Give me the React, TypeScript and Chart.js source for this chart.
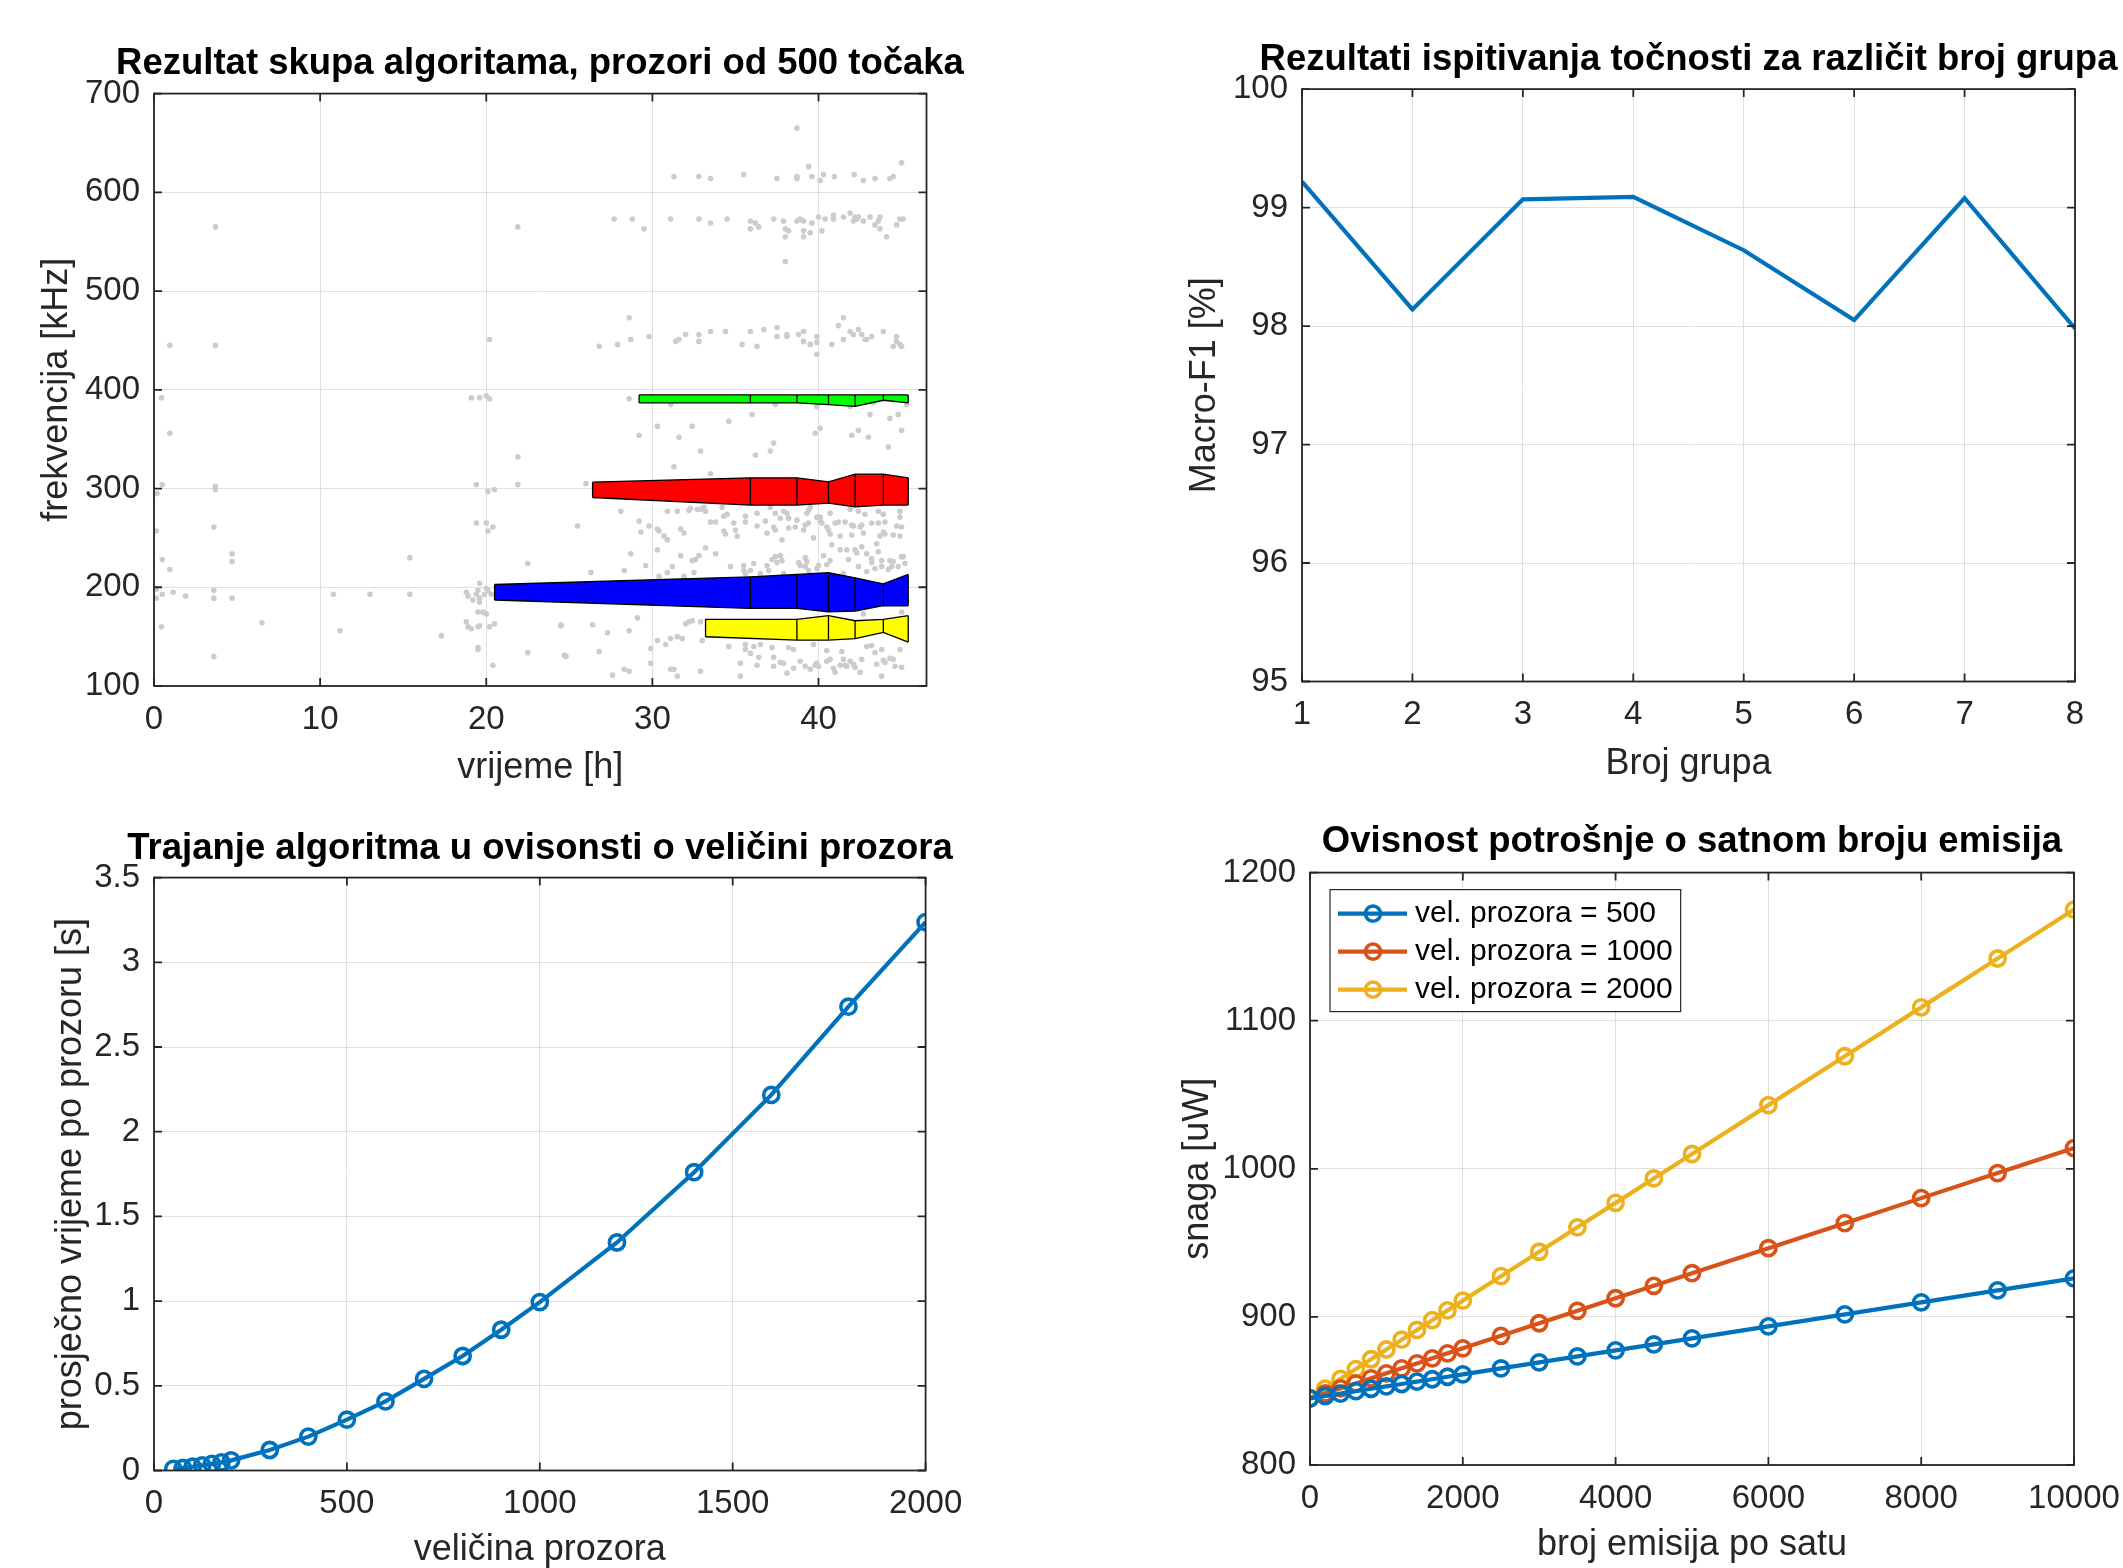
import React, { useEffect, useRef } from 'react';
import { Chart, registerables } from 'chart.js';

Chart.register(...registerables);

const FONT = '"Liberation Sans", Arial, Helvetica, sans-serif';
const AXIS = '#262626';
const GRID = '#dfdfdf';
const C_BLUE = '#0072BD';
const C_ORANGE = '#D95319';
const C_YELLOW = '#EDB120';

// ---------- Top-left: time [h] vs frequency [kHz] ----------
const timeFreqPoints: [number, number][] = [
  [3.7, 565], [21.9, 565], [0.95, 445], [3.7, 445], [20.2, 451],
  [0.45, 392], [19.1, 392], [19.6, 392], [20.0, 394], [20.2, 391],
  [0.95, 356], [21.9, 332], [0.5, 304], [3.7, 302], [3.7, 299], [19.4, 304], [21.9, 304], [0.18, 295], [20.1, 297], [20.5, 299],
  [0.14, 257], [3.6, 261], [19.4, 265], [20.0, 265], [20.1, 257], [20.4, 261],
  [0.5, 228], [0.95, 218], [4.7, 234], [4.7, 226], [15.4, 230], [22.5, 224],
  [0.14, 198], [0.14, 189], [0.5, 193], [1.15, 195], [1.9, 191], [3.6, 197], [3.6, 189], [4.7, 189], [10.8, 193], [13.0, 193], [15.4, 193],
  [18.8, 195], [18.9, 191], [19.2, 187], [19.4, 193], [19.5, 197], [19.6, 189], [19.6, 185], [19.9, 193], [20.0, 199], [20.1, 197], [20.3, 193], [19.6, 204],
  [0.45, 160], [6.5, 164], [11.2, 156], [17.3, 151],
  [18.8, 165], [18.9, 160], [19.1, 158], [19.5, 160], [19.6, 161], [20.2, 160], [20.5, 163], [19.5, 175], [19.8, 175], [20.0, 173],
  [24.5, 161], [3.6, 130], [19.5, 137], [19.5, 139], [22.5, 134], [24.8, 130], [20.4, 121],
  [38.7, 665], [45.0, 630], [39.4, 626],
  [31.3, 616], [32.8, 616], [33.5, 614], [35.5, 618], [37.5, 614], [38.7, 616], [38.7, 614], [39.6, 616], [40.1, 612], [40.3, 618],
  [40.95, 616], [42.15, 618], [42.7, 612], [43.4, 614], [44.3, 614], [44.5, 616],
  [27.7, 573], [28.8, 573], [29.5, 563], [31.1, 573], [32.8, 573], [33.5, 569], [34.5, 573], [35.9, 571], [36.2, 569], [36.4, 565],
  [35.9, 563], [37.3, 573], [37.9, 571], [38.0, 563], [38.2, 561], [38.0, 555], [38.7, 571], [38.9, 573], [39.1, 571], [39.1, 561],
  [39.5, 559], [39.1, 555], [39.6, 569], [40.0, 575], [40.2, 561], [40.4, 573], [40.9, 573], [40.9, 577], [41.5, 575], [41.9, 579],
  [42.1, 571], [42.2, 575], [42.3, 573], [42.4, 575], [42.7, 571], [43.1, 575], [43.4, 567], [43.7, 575], [43.6, 571], [43.7, 563],
  [44.1, 555], [44.7, 567], [44.9, 573], [45.1, 573], [38.0, 530],
  [28.6, 473], [26.8, 444], [27.9, 446], [28.7, 451], [29.8, 454],
  [31.4, 449], [31.6, 451], [32.0, 456], [32.8, 456], [32.8, 449], [33.5, 459], [34.4, 459], [35.4, 446], [35.9, 459], [36.3, 444],
  [36.7, 461], [37.5, 463], [37.5, 454], [38.1, 456], [38.1, 454], [38.8, 456], [39.1, 459], [39.1, 449], [39.5, 446], [39.9, 454],
  [39.9, 448], [39.9, 436], [40.8, 446], [41.2, 465], [41.5, 473], [41.5, 451], [41.9, 459], [42.1, 456], [42.4, 461], [42.6, 456],
  [42.8, 451], [42.9, 451], [43.2, 454], [43.9, 459], [44.7, 454], [44.7, 449], [44.9, 446], [44.5, 444], [45.0, 444],
  [28.6, 391], [31.1, 385], [37.4, 385], [39.9, 383], [41.9, 383], [43.3, 387], [45.3, 385],
  [36.0, 375], [43.1, 375], [44.8, 375], [44.3, 371], [30.3, 363], [32.4, 363], [34.6, 368], [40.1, 361], [39.8, 356],
  [42.4, 359], [45.0, 359], [29.2, 354], [31.6, 352], [42.0, 354], [43.0, 352], [37.3, 346], [37.1, 338], [32.9, 338], [36.2, 334],
  [44.2, 342], [31.3, 322], [33.5, 315], [26.0, 305],
  [28.1, 277], [30.9, 277], [31.5, 277], [32.2, 278], [32.3, 280], [32.7, 279], [32.9, 279], [33.1, 281], [33.2, 277], [34.2, 281],
  [34.3, 272], [34.5, 274], [35.6, 272], [36.3, 275], [37.1, 281], [37.4, 275], [37.7, 270], [37.9, 277], [38.1, 275], [38.2, 270],
  [38.7, 268], [39.3, 275], [39.4, 278], [39.5, 281], [39.9, 271], [40.1, 271], [40.1, 268], [40.2, 265], [40.7, 275], [41.2, 266],
  [41.6, 266], [41.0, 265], [41.9, 279], [42.1, 262], [42.4, 277], [42.8, 274], [42.6, 263], [42.5, 261], [43.2, 265], [43.6, 277],
  [43.9, 274], [44.0, 266], [44.9, 277], [44.9, 271], [44.7, 262], [45.0, 261],
  [25.5, 262], [29.2, 267], [29.8, 262], [29.3, 256], [30.4, 257], [30.3, 259], [30.7, 252], [30.9, 248], [31.7, 259], [31.9, 255],
  [33.5, 266], [33.8, 266], [34.3, 257], [34.4, 254], [34.9, 265], [35.0, 258], [35.1, 252], [35.6, 266], [36.3, 262], [36.8, 267],
  [36.9, 255], [37.3, 261], [37.4, 258], [37.8, 248], [38.2, 260], [38.6, 261], [39.1, 258], [39.2, 263], [39.4, 265], [39.7, 250],
  [40.5, 261], [40.7, 254], [40.6, 258], [41.3, 252], [42.0, 253], [42.0, 263], [42.7, 255], [43.6, 265], [43.7, 252], [43.9, 256],
  [44.0, 254], [44.5, 253], [44.9, 252],
  [28.7, 234], [30.3, 238], [31.7, 232], [32.4, 227], [32.6, 228], [32.8, 232], [33.2, 240], [33.8, 234], [29.6, 222], [26.3, 215],
  [28.3, 217], [30.4, 211], [30.9, 215], [31.2, 221], [31.9, 211], [32.5, 215], [34.7, 221], [35.5, 222], [35.5, 217], [35.6, 214],
  [36.1, 224], [35.9, 217], [36.5, 214], [36.9, 222], [37.0, 217], [37.2, 228], [37.4, 231], [37.5, 225], [37.7, 232], [37.8, 227],
  [37.9, 214], [38.8, 225], [38.9, 222], [39.2, 230], [39.3, 226], [39.4, 217], [39.2, 221], [40.0, 222], [39.9, 219], [40.3, 232],
  [40.5, 223], [40.7, 227], [40.8, 243], [41.3, 238], [41.7, 238], [41.8, 228], [42.3, 235], [42.2, 238], [42.6, 241], [42.4, 221],
  [42.9, 216], [42.9, 234], [43.2, 229], [43.2, 225], [43.6, 236], [43.8, 227], [43.8, 221], [44.2, 218], [44.3, 227], [44.4, 221],
  [44.5, 226], [44.8, 221], [45.1, 231], [45.2, 224], [45.0, 231], [43.5, 244], [43.4, 219], [41.5, 214],
  [24.5, 162], [26.4, 162], [29.1, 169], [27.3, 154], [28.6, 156], [24.7, 131], [26.8, 135], [27.6, 111], [28.3, 117], [28.6, 115],
  [29.9, 138], [29.9, 123], [30.3, 146], [30.8, 142], [31.1, 148], [31.5, 150], [31.8, 148], [32.0, 163], [32.2, 165], [32.4, 166],
  [32.9, 165], [33.0, 146], [31.1, 117], [31.3, 117], [31.5, 110], [32.9, 115], [35.3, 110], [34.6, 140], [35.3, 123], [35.6, 142],
  [35.6, 137], [36.1, 140], [35.9, 133], [36.4, 129], [36.5, 142], [36.3, 121], [37.2, 139], [37.3, 129], [37.3, 120], [37.7, 124],
  [37.9, 123], [38.2, 139], [38.5, 137], [38.1, 113], [38.5, 118], [38.9, 125], [39.2, 120], [39.5, 117], [39.7, 142], [39.9, 123],
  [40.0, 120], [39.8, 121], [40.5, 136], [40.5, 125], [40.7, 127], [40.9, 118], [41.0, 114], [41.3, 121], [41.4, 135], [41.5, 127],
  [41.6, 121], [41.7, 120], [41.9, 125], [42.1, 122], [42.2, 119], [42.5, 114], [42.6, 127], [42.7, 173], [42.9, 140], [43.2, 141],
  [43.4, 134], [43.5, 122], [43.8, 137], [43.9, 126], [44.0, 124], [44.3, 128], [44.5, 127], [44.6, 120], [45.0, 119], [44.9, 137],
  [43.8, 110], [45.0, 175],
];

const greenX = [29.2, 35.9, 38.7, 40.6, 42.2, 43.9, 45.4];
const greenHi = [394.8, 394.8, 394.8, 394.8, 394.8, 394.8, 394.8];
const greenLo = [386.7, 386.7, 386.7, 385.0, 383.3, 389.4, 386.7];

const redX = [26.4, 35.9, 38.7, 40.6, 42.2, 43.9, 45.4];
const redHi = [306.4, 310.8, 310.8, 306.8, 314.5, 314.5, 310.8];
const redLo = [290.9, 283.2, 283.2, 285.2, 281.5, 283.2, 283.2];

const blueX = [20.5, 35.9, 38.7, 40.6, 42.2, 43.9, 45.4];
const blueHi = [202.8, 210.6, 213.0, 214.7, 209.6, 203.5, 213.0];
const blueLo = [187.1, 178.6, 178.6, 175.2, 175.9, 181.3, 181.3];

const yellowX = [33.2, 38.7, 40.6, 42.2, 43.9, 45.4];
const yellowHi = [167.5, 167.5, 171.2, 166.1, 167.5, 171.2];
const yellowLo = [149.9, 146.5, 146.5, 147.9, 154.3, 144.5];

// ---------- Top-right ----------
const groupCounts = [1, 2, 3, 4, 5, 6, 7, 8];
const macroF1 = [99.22, 98.14, 99.07, 99.09, 98.64, 98.05, 99.08, 97.98];

// ---------- Bottom-left ----------
const windowSizes = [50, 75, 100, 125, 150, 175, 200, 300, 400, 500, 600, 700, 800, 900, 1000, 1200, 1400, 1600, 1800, 2000];
const avgTimePerWindow = [0.01, 0.015, 0.022, 0.03, 0.039, 0.048, 0.06, 0.121, 0.2, 0.3, 0.408, 0.541, 0.676, 0.831, 0.994, 1.346, 1.761, 2.217, 2.738, 3.237];

// ---------- Bottom-right ----------
const emissionsPerHour = [0, 200, 400, 600, 800, 1000, 1200, 1400, 1600, 1800, 2000, 2500, 3000, 3500, 4000, 4500, 5000, 6000, 7000, 8000, 9000, 10000];
const power500 = [845.0, 846.6, 848.2, 849.9, 851.5, 853.1, 854.7, 856.3, 857.9, 859.6, 861.2, 865.2, 869.3, 873.3, 877.4, 881.4, 885.5, 893.6, 901.7, 909.8, 917.9, 926.0];
const power1000 = [845.0, 848.4, 851.8, 855.1, 858.5, 861.9, 865.3, 868.6, 872.0, 875.4, 878.8, 887.2, 895.7, 904.1, 912.6, 921.0, 929.5, 946.4, 963.3, 980.2, 997.1, 1014.0];
const power2000 = [845.0, 851.6, 858.2, 864.8, 871.4, 878.0, 884.6, 891.2, 897.8, 904.4, 911.0, 927.5, 944.0, 960.5, 977.0, 993.5, 1010.0, 1043.0, 1076.0, 1109.0, 1142.0, 1175.0];
const legendLabels = ['vel. prozora = 500', 'vel. prozora = 1000', 'vel. prozora = 2000'];

const LINE_W = 4.2;
const MARK_R = 7.6;
const MARK_W = 3.6;

// ---------- helpers ----------
const matlabAxes = {
  id: 'matlabAxes',
  afterDatasetsDraw(chart: any) {
    const { ctx, chartArea: ca, scales } = chart;
    const xs = scales.x;
    const ys = scales.y;
    const tl = 8;
    ctx.save();
    ctx.strokeStyle = AXIS;
    ctx.lineWidth = 1.8;
    ctx.beginPath();
    xs.ticks.forEach((t: any) => {
      const px = xs.getPixelForValue(t.value);
      ctx.moveTo(px, ca.bottom);
      ctx.lineTo(px, ca.bottom - tl);
      ctx.moveTo(px, ca.top);
      ctx.lineTo(px, ca.top + tl);
    });
    ys.ticks.forEach((t: any) => {
      const py = ys.getPixelForValue(t.value);
      ctx.moveTo(ca.left, py);
      ctx.lineTo(ca.left + tl, py);
      ctx.moveTo(ca.right, py);
      ctx.lineTo(ca.right - tl, py);
    });
    ctx.stroke();
    ctx.strokeRect(ca.left, ca.top, ca.right - ca.left, ca.bottom - ca.top);
    ctx.restore();
  },
};

const insideLegend = {
  id: 'insideLegend',
  afterDraw(chart: any) {
    const { ctx, chartArea: ca } = chart;
    const ds = chart.data.datasets;
    ctx.save();
    ctx.font = `30px ${FONT}`;
    const textW = Math.max(...ds.map((d: any) => ctx.measureText(d.label).width));
    const bx = ca.left + 20;
    const by = ca.top + 17;
    const bw = 85 + textW + 8;
    const bh = 122;
    ctx.fillStyle = '#ffffff';
    ctx.fillRect(bx, by, bw, bh);
    ctx.strokeStyle = AXIS;
    ctx.lineWidth = 1.2;
    ctx.strokeRect(bx, by, bw, bh);
    ds.forEach((d: any, i: number) => {
      const cy = by + 24 + i * 38;
      ctx.strokeStyle = d.borderColor;
      ctx.lineWidth = LINE_W;
      ctx.beginPath();
      ctx.moveTo(bx + 8, cy);
      ctx.lineTo(bx + 77, cy);
      ctx.stroke();
      ctx.lineWidth = MARK_W;
      ctx.beginPath();
      ctx.arc(bx + 43, cy, MARK_R, 0, Math.PI * 2);
      ctx.stroke();
      ctx.fillStyle = '#000000';
      ctx.textBaseline = 'middle';
      ctx.textAlign = 'left';
      ctx.fillText(d.label, bx + 85, cy);
    });
    ctx.restore();
  },
};

type Geo = {
  yWidth: number;
  xHeight: number;
  rightSpace: number;
  titleTop: number;
  titleBottom: number;
  yTitlePad: number;
  xTitlePad: number;
};

function axisOpts(o: {
  min: number; max: number; step: number; title: string; horizontal: boolean; size: number; titlePad: number;
}) {
  return {
    type: 'linear',
    min: o.min,
    max: o.max,
    ticks: {
      stepSize: o.step,
      includeBounds: false,
      color: AXIS,
      padding: 14,
      font: { family: FONT, size: 33 },
      maxRotation: 0,
      autoSkip: false,
      callback: (v: any) => String(Math.round(Number(v) * 1000) / 1000),
    },
    grid: { color: GRID, lineWidth: 1, drawTicks: false },
    border: { display: false },
    title: {
      display: true,
      text: o.title,
      color: AXIS,
      font: { family: FONT, size: 36 },
      padding: o.horizontal ? { top: 0, bottom: o.titlePad } : { top: o.titlePad, bottom: 0 },
    },
    afterFit: (s: any) => {
      if (o.horizontal) s.height = o.size;
      else s.width = o.size;
    },
  };
}

// invisible right-hand box so that the chart title is centred over the plot area
function spacerAxis(width: number) {
  return {
    type: 'linear',
    position: 'right',
    display: true,
    grid: { display: false, drawOnChartArea: false },
    ticks: { display: false },
    border: { display: false },
    title: { display: false },
    afterFit: (s: any) => {
      s.width = width;
    },
  };
}

function baseOptions(title: string, g: Geo, xAxis: any, yAxis: any) {
  return {
    responsive: false,
    animation: false,
    events: [],
    layout: { padding: 0 },
    plugins: {
      legend: { display: false },
      tooltip: { enabled: false },
      title: {
        display: true,
        text: title,
        color: '#000000',
        font: { family: FONT, size: 36.5, weight: 'bold' },
        padding: { top: g.titleTop, bottom: g.titleBottom },
      },
    },
    scales: { x: xAxis, y: yAxis, yr: spacerAxis(g.rightSpace) },
  };
}

function bandDatasets(X: number[], Hi: number[], Lo: number[], color: string) {
  const hi = X.map((x, i) => ({ x, y: Hi[i] }));
  const lo = X.map((x, i) => ({ x, y: Lo[i] }));
  const seg: any[] = [];
  X.forEach((x, i) => {
    seg.push({ x, y: Lo[i] });
    seg.push({ x, y: Hi[i] });
    seg.push({ x, y: null });
  });
  return [
    { data: hi, showLine: true, borderColor: '#000000', borderWidth: 1.3, pointRadius: 0, fill: false, order: 2 },
    { data: lo, showLine: true, borderColor: '#000000', borderWidth: 1.3, pointRadius: 0, fill: '-1', backgroundColor: color, order: 3 },
    { data: seg, showLine: true, borderColor: '#000000', borderWidth: 1.3, pointRadius: 0, fill: false, spanGaps: false, order: 1 },
  ];
}

function makeTL() {
  const g: Geo = { yWidth: 154, xHeight: 104, rightSpace: 153.5, titleTop: 42, titleBottom: 7.8, yTitlePad: 35.4, xTitlePad: 0.4 };
  return {
    type: 'scatter',
    data: {
      datasets: [
        {
          data: timeFreqPoints.map(([x, y]) => ({ x, y })),
          pointRadius: 2.8,
          pointBorderWidth: 0,
          pointBackgroundColor: '#cccccc',
          showLine: false,
          order: 10,
        },
        ...bandDatasets(greenX, greenHi, greenLo, '#00ff00'),
        ...bandDatasets(redX, redHi, redLo, '#ff0000'),
        ...bandDatasets(blueX, blueHi, blueLo, '#0000ff'),
        ...bandDatasets(yellowX, yellowHi, yellowLo, '#ffff00'),
      ],
    },
    options: baseOptions(
      'Rezultat skupa algoritama, prozori od 500 točaka',
      g,
      axisOpts({ min: 0, max: 46.5, step: 10, title: 'vrijeme [h]', horizontal: true, size: g.xHeight, titlePad: g.xTitlePad }),
      axisOpts({ min: 100, max: 700, step: 100, title: 'frekvencija [kHz]', horizontal: false, size: g.yWidth, titlePad: g.yTitlePad }),
    ),
    plugins: [matlabAxes],
  };
}

function makeTR() {
  const g: Geo = { yWidth: 134, xHeight: 104.5, rightSpace: 134, titleTop: 38, titleBottom: 7.3, yTitlePad: 15.4, xTitlePad: 0.4 };
  return {
    type: 'scatter',
    data: {
      datasets: [
        {
          data: groupCounts.map((x, i) => ({ x, y: macroF1[i] })),
          showLine: true,
          borderColor: C_BLUE,
          borderWidth: LINE_W,
          pointRadius: 0,
          fill: false,
        },
      ],
    },
    options: baseOptions(
      'Rezultati ispitivanja točnosti za različit broj grupa',
      g,
      axisOpts({ min: 1, max: 8, step: 1, title: 'Broj grupa', horizontal: true, size: g.xHeight, titlePad: g.xTitlePad }),
      axisOpts({ min: 95, max: 100, step: 1, title: 'Macro-F1 [%]', horizontal: false, size: g.yWidth, titlePad: g.yTitlePad }),
    ),
    plugins: [matlabAxes],
  };
}

function lineMarkerDataset(xs: number[], ys: number[], color: string, label: string) {
  return {
    label,
    data: xs.map((x, i) => ({ x, y: ys[i] })),
    showLine: true,
    borderColor: color,
    borderWidth: LINE_W,
    pointRadius: MARK_R,
    pointBorderWidth: MARK_W,
    pointBorderColor: color,
    pointBackgroundColor: 'rgba(0,0,0,0)',
    fill: false,
  };
}

function makeBL() {
  const g: Geo = { yWidth: 154, xHeight: 101.5, rightSpace: 154.4, titleTop: 37.4, titleBottom: 6.4, yTitlePad: 49.4, xTitlePad: 0.4 };
  return {
    type: 'scatter',
    data: { datasets: [lineMarkerDataset(windowSizes, avgTimePerWindow, C_BLUE, 'vrijeme')] },
    options: baseOptions(
      'Trajanje algoritma u ovisonsti o veličini prozora',
      g,
      axisOpts({ min: 0, max: 2000, step: 500, title: 'veličina prozora', horizontal: true, size: g.xHeight, titlePad: g.xTitlePad }),
      axisOpts({ min: 0, max: 3.5, step: 0.5, title: 'prosječno vrijeme po prozoru [s]', horizontal: false, size: g.yWidth, titlePad: g.yTitlePad }),
    ),
    plugins: [matlabAxes],
  };
}

function makeBR() {
  const g: Geo = { yWidth: 142, xHeight: 102, rightSpace: 142, titleTop: 30.4, titleBottom: 8.4, yTitlePad: 8.4, xTitlePad: 0.4 };
  return {
    type: 'scatter',
    data: {
      datasets: [
        lineMarkerDataset(emissionsPerHour, power500, C_BLUE, legendLabels[0]),
        lineMarkerDataset(emissionsPerHour, power1000, C_ORANGE, legendLabels[1]),
        lineMarkerDataset(emissionsPerHour, power2000, C_YELLOW, legendLabels[2]),
      ],
    },
    options: baseOptions(
      'Ovisnost potrošnje o satnom broju emisija',
      g,
      axisOpts({ min: 0, max: 10000, step: 2000, title: 'broj emisija po satu', horizontal: true, size: g.xHeight, titlePad: g.xTitlePad }),
      axisOpts({ min: 800, max: 1200, step: 100, title: 'snaga [uW]', horizontal: false, size: g.yWidth, titlePad: g.yTitlePad }),
    ),
    plugins: [matlabAxes, insideLegend],
  };
}

function ChartCanvas(props: { left: number; top: number; width: number; height: number; make: () => any }) {
  const ref = useRef<HTMLCanvasElement | null>(null);
  useEffect(() => {
    if (!ref.current) return;
    const chart = new Chart(ref.current, props.make());
    return () => chart.destroy();
  }, []);
  return (
    <canvas
      ref={ref}
      width={props.width}
      height={props.height}
      style={{ position: 'absolute', left: props.left, top: props.top, width: props.width, height: props.height, display: 'block' }}
    />
  );
}

export default function App() {
  return (
    <div
      style={{
        position: 'absolute',
        left: 0,
        top: 0,
        width: 2123,
        height: 1568,
        overflow: 'hidden',
        background: '#ffffff',
      }}
    >
      <ChartCanvas left={0} top={0} width={1080} height={790} make={makeTL} />
      <ChartCanvas left={1168} top={0} width={1041} height={786} make={makeTR} />
      <ChartCanvas left={0} top={790} width={1080} height={782} make={makeBL} />
      <ChartCanvas left={1168} top={790} width={1048} height={777} make={makeBR} />
    </div>
  );
}
